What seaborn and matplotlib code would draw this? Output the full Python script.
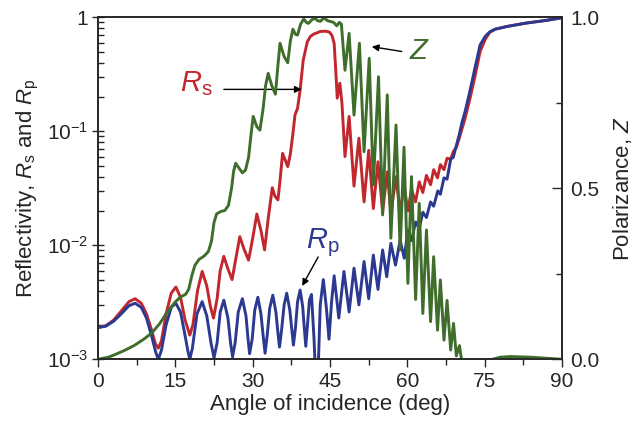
import pandas as pd
import matplotlib
matplotlib.use("Agg")
import matplotlib.pyplot as plt
from matplotlib.ticker import MultipleLocator, FixedLocator, LogLocator, NullFormatter
import seaborn as sns

# Rs (s-polarised reflectivity)
angle_rs = [0, 1.5, 3.0, 4.5, 6.0, 7.2, 8.4, 9.4, 10.4, 11.1, 11.7, 12.3, 13.2, 14.2,
            15.1, 16.0, 16.9, 17.8, 18.4, 19.3, 20.2, 21.1, 21.8, 22.4, 23.1, 23.7,
            24.4, 25.2, 26.0, 26.7, 27.5, 28.3, 29.2, 30.0, 30.8, 31.6, 32.3, 33.0,
            33.8, 34.3, 34.9, 35.3, 35.8, 36.3, 36.8, 37.3, 37.8, 38.2, 38.7, 39.2,
            39.8, 40.6, 41.2, 41.8, 43.1, 44.2, 44.9, 45.4, 45.8, 46.1, 46.4, 46.9,
            47.3, 47.9, 48.7, 49.65, 50.6, 51.6, 52.5, 53.4, 54.3, 55.2, 56.1, 56.8,
            57.8, 58.6, 59.35, 60.1, 60.8, 61.6, 62.3, 63.0, 63.7, 64.5, 65.1, 65.85,
            66.4, 67.1, 67.7, 68.4, 68.95, 69.5, 70.1, 70.6, 71.2, 72.1, 73.1, 74.1,
            75.1, 76.0, 77.0, 79.3, 83.1, 87.0, 90.0]
rs = [1.9e-3, 1.97e-3, 2.2e-3, 2.65e-3, 3.2e-3, 3.4e-3, 3.1e-3, 2.5e-3, 1.8e-3, 1.38e-3,
      1.25e-3, 1.45e-3, 2.5e-3, 3.8e-3, 4.3e-3, 3.5e-3, 2.2e-3, 1.63e-3, 2.0e-3, 4.0e-3,
      5.9e-3, 4.4e-3, 2.9e-3, 2.3e-3, 3.4e-3, 6.0e-3, 8.0e-3, 6.2e-3, 5.0e-3, 7.5e-3,
      1.19e-2, 9.3e-3, 7.4e-3, 1.15e-2, 1.88e-2, 1.35e-2, 9.1e-3, 1.7e-2, 3.2e-2, 2.7e-2,
      2.5e-2, 3.7e-2, 6.4e-2, 5.6e-2, 4.9e-2, 6.3e-2, 9.5e-2, 0.139, 0.159, 0.23,
      0.42, 0.61, 0.68, 0.71, 0.75, 0.755, 0.74, 0.69, 0.59, 0.35, 0.195, 0.264,
      0.18, 0.060, 0.135, 0.033, 0.087, 0.024, 0.068, 0.021, 0.054, 0.0197, 0.044, 0.019,
      0.040, 0.019, 0.034, 0.020, 0.031, 0.024, 0.036, 0.029, 0.041, 0.034, 0.046, 0.039,
      0.051, 0.046, 0.058, 0.057, 0.067, 0.072, 0.088, 0.105, 0.13, 0.19, 0.30, 0.50,
      0.64, 0.74, 0.785, 0.83, 0.89, 0.94, 0.99]

# Rp (p-polarised reflectivity)
angle_rp = [0, 1.5, 3.0, 4.5, 6.0, 7.2, 8.4, 9.4, 10.4, 11.2, 11.7, 12.3, 13.2, 14.2,
            15.1, 16.0, 16.9, 17.4, 17.8, 18.3, 19.2, 20.2, 21.1, 21.9, 22.5, 23.1,
            23.7, 24.4, 25.2, 25.7, 26.1, 26.6, 27.2, 28.0, 28.7, 29.1, 29.4, 29.9,
            30.4, 31.0, 31.6, 32.1, 32.4, 32.8, 33.3, 33.9, 34.5, 34.9, 35.2, 35.6,
            36.1, 36.6, 37.2, 37.6, 37.9, 38.3, 38.7, 39.2, 39.7, 40.0, 40.3, 40.7,
            41.0, 41.4, 41.9, 42.2, 42.5, 42.7, 43.1, 43.7, 44.3, 44.8, 45.3, 45.8,
            46.7, 47.7, 48.7, 49.65, 50.6, 51.6, 52.5, 53.4, 54.3, 55.2, 56.0, 56.8,
            57.7, 58.6, 59.4, 60.1, 60.8, 61.6, 62.3, 63.0, 63.7, 64.5, 65.1, 65.9,
            66.4, 67.1, 67.7, 68.4, 68.9, 69.5, 70.1, 70.6, 71.2, 72.1, 73.1, 74.1,
            75.1, 76.0, 77.0, 79.3, 83.1, 87.0, 90.0]
rp = [1.9e-3, 1.95e-3, 2.15e-3, 2.5e-3, 2.95e-3, 3.1e-3, 2.85e-3, 2.3e-3, 1.6e-3, 1.15e-3,
      1.0e-3, 1.2e-3, 2.0e-3, 2.85e-3, 3.1e-3, 2.6e-3, 1.6e-3, 1.2e-3, 1.0e-3, 1.25e-3,
      2.5e-3, 3.2e-3, 2.4e-3, 1.4e-3, 1.03e-3, 1.4e-3, 2.6e-3, 3.3e-3, 2.3e-3, 1.4e-3,
      1.05e-3, 1.4e-3, 2.6e-3, 3.4e-3, 2.4e-3, 1.5e-3, 1.12e-3, 1.5e-3, 2.7e-3, 3.5e-3,
      2.5e-3, 1.5e-3, 1.13e-3, 1.6e-3, 2.8e-3, 3.65e-3, 2.6e-3, 1.7e-3, 1.28e-3, 1.8e-3,
      3.0e-3, 3.8e-3, 2.7e-3, 1.8e-3, 1.33e-3, 1.9e-3, 3.2e-3, 4.05e-3, 2.9e-3, 1.9e-3,
      1.3e-3, 2.2e-3, 3.3e-3, 3.7e-3, 1.5e-3, 7e-4, 5e-4, 8e-4, 3.0e-3, 5.0e-3,
      2.8e-3, 1.5e-3, 3.2e-3, 5.4e-3, 2.3e-3, 5.9e-3, 2.6e-3, 6.3e-3, 3.0e-3, 7.2e-3,
      3.4e-3, 8.2e-3, 4.1e-3, 9.1e-3, 5.3e-3, 1.04e-2, 6.7e-3, 1.11e-2, 7.7e-3, 1.36e-2,
      1.1e-2, 1.6e-2, 1.4e-2, 1.95e-2, 1.75e-2, 2.4e-2, 2.2e-2, 3.0e-2, 2.8e-2, 3.9e-2,
      3.8e-2, 5.7e-2, 5.9e-2, 7.5e-2, 9.5e-2, 0.12, 0.149, 0.222, 0.357, 0.571,
      0.68, 0.745, 0.785, 0.83, 0.89, 0.94, 0.99]

# Z (polarizance), right axis
angle_z = [0, 2, 3.5, 5, 7, 9, 10.5, 12, 13.5, 15, 16, 17, 17.6, 18.2, 18.8, 19.6,
           20.6, 21.4, 22.0, 22.5, 23.0, 23.8, 24.6, 25.3, 25.9, 26.3, 26.7, 27.3,
           28.0, 28.6, 29.2, 29.7, 30.1, 30.8, 31.4, 32.0, 32.5, 33.0, 33.7, 34.4,
           34.9, 35.3, 36.1, 36.8, 37.3, 37.8, 38.3, 38.7, 39.3, 39.9, 40.4, 40.8,
           41.5, 42.1, 42.6, 43.1, 43.6, 44.0, 44.5, 45.0, 45.7, 46.3, 46.8, 47.2,
           47.9, 48.7, 49.65, 50.7, 51.6, 52.6, 53.4, 54.4, 55.2, 56.1, 56.8, 57.8,
           58.6, 59.35, 60.1, 60.8, 61.6, 62.3, 63.0, 63.7, 64.5, 65.1, 65.85, 66.4,
           67.1, 67.7, 68.4, 68.95, 69.5, 70.1, 70.6, 72.0, 74.0, 76.0, 78.0, 80.0,
           84.0, 87.0, 90.0]
z = [0.0, 0.006, 0.015, 0.025, 0.04, 0.06, 0.078, 0.105, 0.14, 0.168, 0.182, 0.19,
     0.205, 0.245, 0.275, 0.292, 0.302, 0.315, 0.345, 0.40, 0.425, 0.432, 0.435, 0.45,
     0.50, 0.55, 0.573, 0.56, 0.545, 0.553, 0.59, 0.66, 0.71, 0.68, 0.67, 0.73,
     0.80, 0.836, 0.80, 0.775, 0.86, 0.924, 0.885, 0.867, 0.93, 0.965, 0.95, 0.948,
     0.98, 0.995, 0.985, 0.982, 0.993, 0.997, 0.99, 0.988, 0.995, 0.997, 0.99, 0.988,
     0.985, 0.975, 0.985, 0.98, 0.845, 0.953, 0.714, 0.924, 0.607, 0.88, 0.51, 0.826,
     0.422, 0.773, 0.354, 0.685, 0.32, 0.62, 0.222, 0.534, 0.175, 0.456, 0.134, 0.378,
     0.11, 0.30, 0.085, 0.232, 0.056, 0.172, 0.027, 0.105, 0.01, 0.04, -0.01, -0.03,
     -0.02, -0.002, 0.006, 0.008, 0.006, 0.003, 0.0]

x_ticks = [0, 15, 30, 45, 60, 75, 90]
r_ticks = [1e-3, 1e-2, 1e-1, 1]
r_tick_labels = ["$10^{-3}$", "$10^{-2}$", "$10^{-1}$", "1"]
z_ticks = [0.0, 0.5, 1.0]
z_tick_labels = ["0.0", "0.5", "1.0"]

RED = "#c1272d"
BLUE = "#2b3990"
GREEN = "#3f6d2b"

sns.set_style("ticks")
plt.rcParams["font.family"] = ["Liberation Sans", "DejaVu Sans"]
plt.rcParams["mathtext.fontset"] = "custom"
plt.rcParams["mathtext.rm"] = "Liberation Sans"
plt.rcParams["mathtext.it"] = "Liberation Sans:italic"
plt.rcParams["mathtext.bf"] = "Liberation Sans:bold"

df_rs = pd.DataFrame({"angle": angle_rs, "R": rs})
df_rp = pd.DataFrame({"angle": angle_rp, "R": rp})
df_z = pd.DataFrame({"angle": angle_z, "Z": z})

fig = plt.figure(figsize=(6.34, 4.21), dpi=100)
ax = fig.add_axes([0.1546, 0.1466, 0.7319, 0.8124])
ax.set_yscale("log")

sns.lineplot(data=df_rs, x="angle", y="R", ax=ax, color=RED, lw=2.1, estimator=None)
sns.lineplot(data=df_rp, x="angle", y="R", ax=ax, color=BLUE, lw=2.1, estimator=None)

ax.set_xlim(0, 90)
ax.set_ylim(1e-3, 1)
ax.set_xticks(x_ticks)
ax.xaxis.set_minor_locator(MultipleLocator(7.5))
ax.yaxis.set_major_locator(FixedLocator(r_ticks))
ax.set_yticklabels(r_tick_labels)
ax.yaxis.set_minor_locator(LogLocator(base=10, subs=range(2, 10)))
ax.yaxis.set_minor_formatter(NullFormatter())
ax.tick_params(axis="x", which="major", direction="out", length=6, width=1, labelsize=15, pad=3)
ax.tick_params(axis="x", which="minor", direction="out", length=4, width=1)
ax.tick_params(axis="y", which="major", direction="inout", length=8, width=1, labelsize=15, pad=3)
ax.tick_params(axis="y", which="minor", direction="in", length=4, width=1)
ax.set_xlabel("Angle of incidence (deg)", fontsize=16, labelpad=2)
ax.set_ylabel("Reflectivity, $R_{\\rm s}$ and $R_{\\rm p}$", fontsize=16, labelpad=4)
for s in ax.spines.values():
    s.set_linewidth(1.2)

ax2 = ax.twinx()
sns.lineplot(data=df_z, x="angle", y="Z", ax=ax2, color=GREEN, lw=2.1, estimator=None)
ax2.set_ylim(0, 1)
ax2.set_yticks(z_ticks)
ax2.set_yticklabels(z_tick_labels)
ax2.yaxis.set_minor_locator(MultipleLocator(0.25))
ax2.tick_params(axis="y", which="major", direction="in", length=7, width=1, labelsize=15, pad=6)
ax2.tick_params(axis="y", which="minor", direction="in", length=4, width=1)
ax2.set_ylabel("Polarizance, $Z$", fontsize=16, labelpad=8)
for s in ax2.spines.values():
    s.set_linewidth(1.2)

arrow = dict(arrowstyle="-|>", color="black", lw=1.0, mutation_scale=10, shrinkA=0, shrinkB=0)

# annotations
ax.text(19.0, 0.26, "$R_{\\rm s}$", color=RED, fontsize=21, ha="center", va="center")
ax.annotate("", xy=(39.5, 0.233), xytext=(24.4, 0.233), arrowprops=arrow)
ax.text(43.6, 0.0105, "$R_{\\rm p}$", color=BLUE, fontsize=21, ha="center", va="center")
ax.annotate("", xy=(39.6, 4.4e-3), xytext=(42.7, 7.9e-3), arrowprops=arrow)
ax2.text(62.3, 0.9, "$Z$", color=GREEN, fontsize=21, ha="center", va="center")
ax2.annotate("", xy=(53.1, 0.914), xytext=(58.9, 0.90), arrowprops=arrow)

fig.savefig("out.png", dpi=100)
